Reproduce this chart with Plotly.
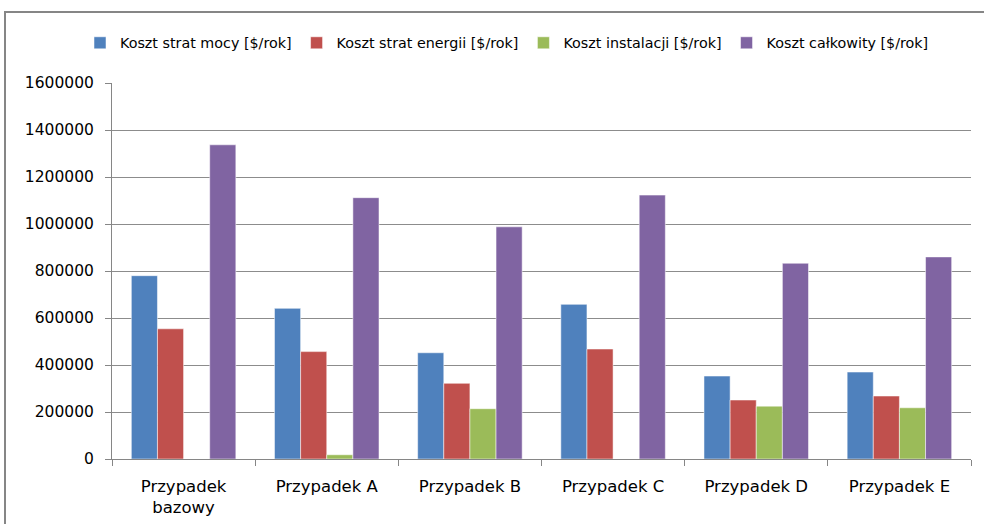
import plotly.graph_objects as go

categories = ["Przypadek<br>bazowy", "Przypadek A", "Przypadek B", "Przypadek C", "Przypadek D", "Przypadek E"]
series_names = ["Koszt strat mocy [$/rok]", "Koszt strat energii [$/rok]",
                "Koszt instalacji [$/rok]", "Koszt całkowity [$/rok]"]
strat_mocy = [780000, 641000, 452000, 658000, 353000, 370000]
strat_energii = [554000, 457000, 322000, 468000, 251000, 268000]
instalacji = [0, 18000, 214000, 0, 225000, 218000]
calkowity = [1337000, 1112000, 988000, 1123000, 833000, 860000]
tick_vals = [0, 200000, 400000, 600000, 800000, 1000000, 1200000, 1400000, 1600000]
tick_text = [str(v) for v in tick_vals]

colors = ["#4F81BD", "#C0504D", "#9BBB59", "#8064A2"]
values = [strat_mocy, strat_energii, instalacji, calkowity]

FONT = "DejaVu Sans"

fig = go.Figure()
for name, vals, col in zip(series_names, values, colors):
    fig.add_trace(go.Bar(
        x=categories, y=vals, name=name,
        marker=dict(color=col, line=dict(color="rgba(255,255,255,0.5)", width=1)),
    ))

W, H = 984, 524
L, R, T, B = 112, 13, 83, 65
pw, ph = W - L - R, H - T - B

def px_to_paper_x(px):
    return (px - L) / pw

def px_to_paper_y(py):
    return (H - B - py) / ph

fig.update_layout(
    width=W, height=H,
    margin=dict(l=L, r=R, t=T, b=B, autoexpand=False),
    paper_bgcolor="white", plot_bgcolor="white",
    barmode="group", bargap=0.27, bargroupgap=0,
    font=dict(family=FONT, size=15, color="#000000"),
    showlegend=True,
    legend=dict(orientation="h", x=px_to_paper_x(507), xanchor="center",
                y=px_to_paper_y(43), yanchor="middle",
                font=dict(family=FONT, size=14.3, color="#000000"),
                itemwidth=30, traceorder="normal", tracegroupgap=0,
                bgcolor="rgba(0,0,0,0)"),
    xaxis=dict(
        showline=True, linecolor="#868686", linewidth=1,
        ticks="outside", ticklen=6, tickcolor="#868686",
        tickson="boundaries", ticklabelstandoff=12,
        tickfont=dict(family=FONT, size=16.5, color="#000000"),
        showgrid=False, fixedrange=True,
    ),
    yaxis=dict(
        range=[0, 1600000], tickvals=tick_vals, ticktext=tick_text,
        showline=True, linecolor="#868686", linewidth=1,
        ticks="outside", ticklen=6, tickcolor="#868686",
        ticklabelstandoff=8,
        showgrid=True, gridcolor="#8c8c8c", gridwidth=1,
        tickfont=dict(family=FONT, size=15.5, color="#000000"),
        zeroline=False, fixedrange=True,
    ),
    shapes=[dict(
        type="rect", xref="paper", yref="paper",
        x0=px_to_paper_x(5), x1=px_to_paper_x(1000),
        y0=px_to_paper_y(540), y1=px_to_paper_y(12),
        line=dict(color="#868686", width=2), fillcolor="rgba(0,0,0,0)",
        layer="below",
    )],
)

fig.write_html("out.html", config={"displayModeBar": False},
               post_script="document.body.style.margin='0';document.body.style.overflow='hidden';")
